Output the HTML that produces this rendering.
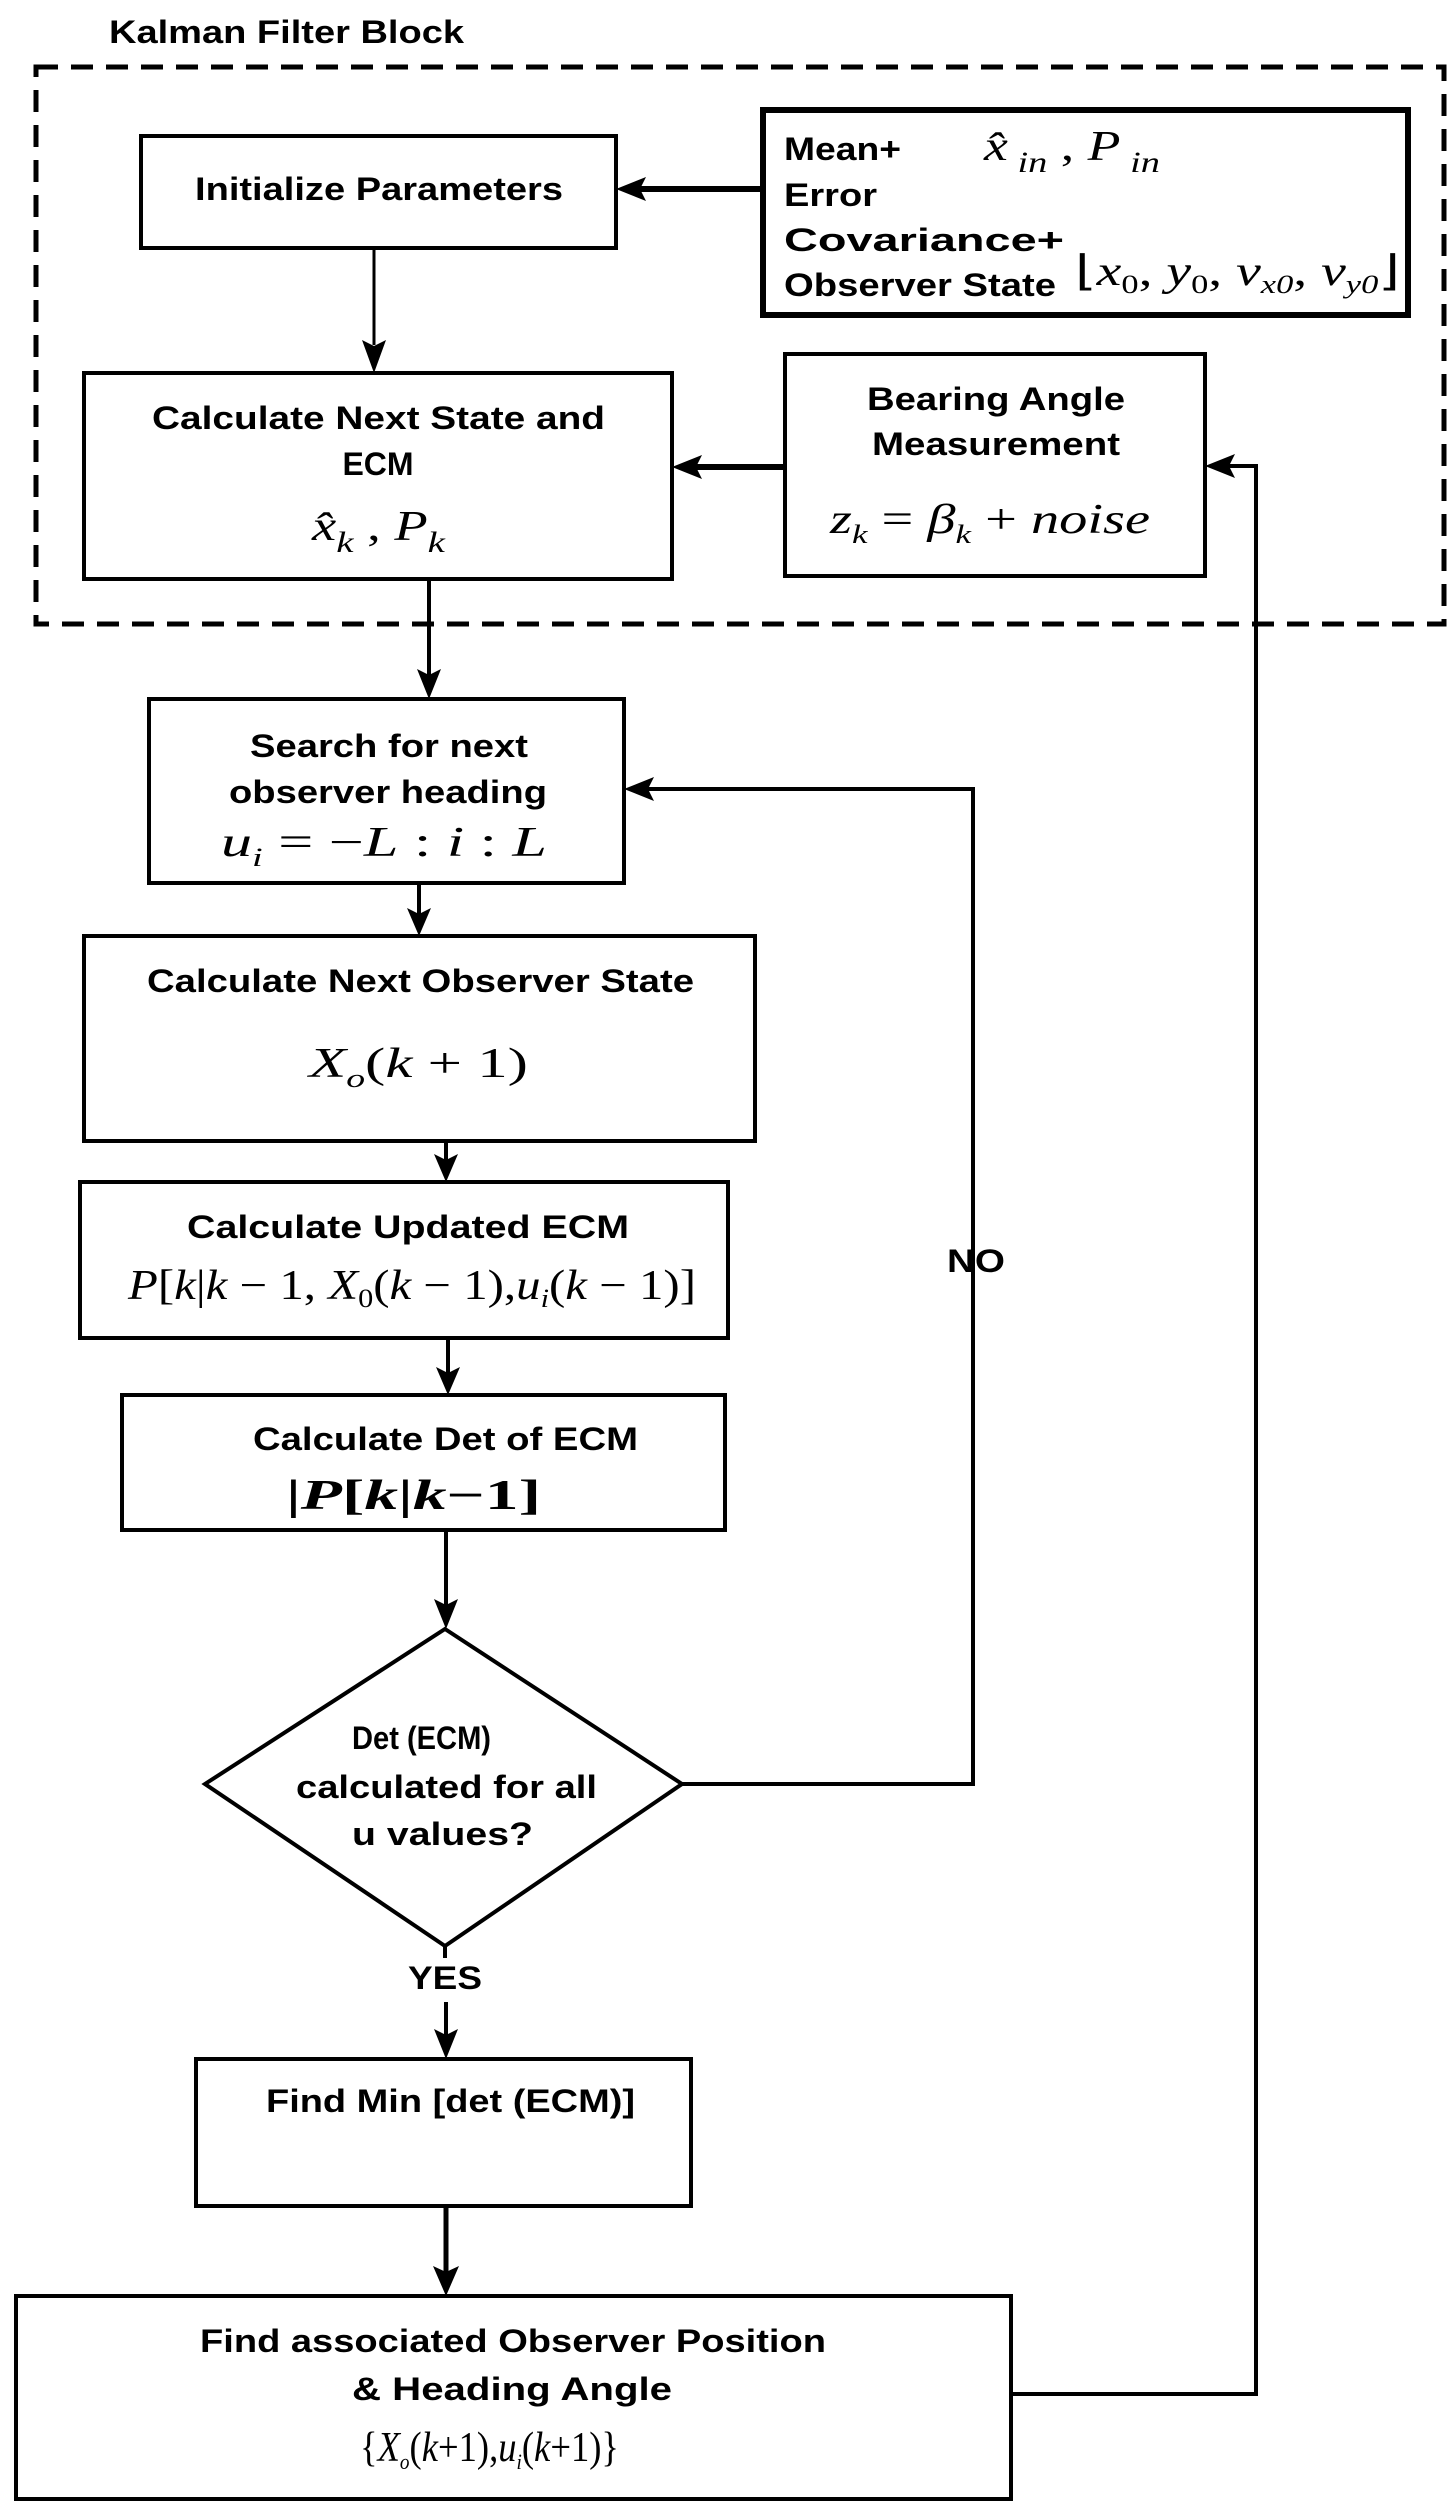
<!DOCTYPE html>
<html><head><meta charset="utf-8"><style>
html,body{margin:0;padding:0;background:#fff}
svg{display:block}
.t{font-family:"Liberation Sans",Arial,sans-serif;font-weight:bold;font-size:32px;fill:#000}
.m{font-family:"Liberation Serif","Times New Roman",serif;font-style:italic;font-size:42px;fill:#000}
</style></head><body>
<svg width="1456" height="2507" viewBox="0 0 1456 2507" xmlns="http://www.w3.org/2000/svg">
<g fill="none" stroke="#000">
<rect x="36" y="67" width="1408" height="557" stroke-width="5" stroke-dasharray="22,13"/>
<rect x="141" y="136" width="475" height="112" stroke-width="4"/>
<rect x="763" y="110" width="645" height="205" stroke-width="6"/>
<rect x="84" y="373" width="588" height="206" stroke-width="4"/>
<rect x="785" y="354" width="420" height="222" stroke-width="4"/>
<rect x="149" y="699" width="475" height="184" stroke-width="4"/>
<rect x="84" y="936" width="671" height="205" stroke-width="4"/>
<rect x="80" y="1182" width="648" height="156" stroke-width="4"/>
<rect x="122" y="1395" width="603" height="135" stroke-width="4"/>
<polygon points="445,1629 682,1784 445,1946 205,1784" stroke-width="4"/>
<rect x="196" y="2059" width="495" height="147" stroke-width="4"/>
<rect x="16" y="2296" width="995" height="203" stroke-width="4"/>
<line x1="763" y1="189" x2="640" y2="189" stroke-width="6"/>
<line x1="374" y1="248" x2="374" y2="345" stroke-width="3"/>
<line x1="785" y1="467" x2="695" y2="467" stroke-width="6"/>
<line x1="429" y1="579" x2="429" y2="675" stroke-width="4"/>
<polyline points="682,1784 973,1784 973,789 648,789" stroke-width="4"/>
<line x1="419" y1="883" x2="419" y2="914" stroke-width="4"/>
<line x1="446" y1="1141" x2="446" y2="1160" stroke-width="4"/>
<line x1="448" y1="1338" x2="448" y2="1373" stroke-width="4"/>
<line x1="446" y1="1530" x2="446" y2="1605" stroke-width="4"/>
<line x1="445" y1="1946" x2="445" y2="1958" stroke-width="4"/>
<line x1="446" y1="2002" x2="446" y2="2035" stroke-width="4"/>
<line x1="446" y1="2206" x2="446" y2="2272" stroke-width="5"/>
<polyline points="1011,2394 1256,2394 1256,466 1228,466" stroke-width="4"/>
</g>
<g fill="#000">
<polygon points="616,189 646,177 640,189 646,201"/>
<polygon points="374,373 362,340 374,346 386,340"/>
<polygon points="672,467 702,455 696,467 702,479"/>
<polygon points="429,699 417,669 429,675 441,669"/>
<polygon points="624,789 654,777 648,789 654,801"/>
<polygon points="419,936 407,908 419,914 431,908"/>
<polygon points="446,1182 434,1154 446,1160 458,1154"/>
<polygon points="448,1395 436,1367 448,1373 460,1367"/>
<polygon points="446,1629 434,1599 446,1605 458,1599"/>
<polygon points="446,2059 434,2029 446,2035 458,2029"/>
<polygon points="446,2296 433,2266 446,2272 459,2266"/>
<polygon points="1205,466 1235,454 1229,466 1235,478"/>
</g>
<text class="t" x="109" y="43" textLength="355" lengthAdjust="spacingAndGlyphs">Kalman Filter Block</text>
<text class="t" x="195" y="200" textLength="368" lengthAdjust="spacingAndGlyphs">Initialize Parameters</text>
<text class="t" x="784" y="160" textLength="117" lengthAdjust="spacingAndGlyphs">Mean+</text>
<text class="t" x="784" y="206" textLength="93" lengthAdjust="spacingAndGlyphs">Error</text>
<text class="t" x="784" y="251" textLength="280" lengthAdjust="spacingAndGlyphs">Covariance+</text>
<text class="t" x="784" y="296" textLength="272" lengthAdjust="spacingAndGlyphs">Observer State</text>
<text class="m" x="984" y="160" font-size="50" textLength="176" lengthAdjust="spacingAndGlyphs">x̂<tspan font-size="30" dy="12"> in</tspan><tspan dy="-12" font-style="normal"> , </tspan>P<tspan font-size="30" dy="12"> in</tspan></text>
<text class="m" x="1075" y="285" textLength="325" lengthAdjust="spacingAndGlyphs"><tspan font-style="normal">⌊</tspan>x<tspan font-size="26" dy="8" font-style="normal">0</tspan><tspan dy="-8" font-style="normal">, </tspan>y<tspan font-size="26" dy="8" font-style="normal">0</tspan><tspan dy="-8" font-style="normal">, </tspan>v<tspan font-size="26" dy="8">x0</tspan><tspan dy="-8" font-style="normal">, </tspan>v<tspan font-size="26" dy="8">y0</tspan><tspan dy="-8" font-style="normal">⌋</tspan></text>
<text class="t" x="152" y="429" textLength="453" lengthAdjust="spacingAndGlyphs">Calculate Next State  and</text>
<text class="t" x="378" y="475" text-anchor="middle">ECM</text>
<text class="m" x="312" y="540" font-size="52" textLength="133" lengthAdjust="spacingAndGlyphs">x̂<tspan font-size="30" dy="12">k</tspan><tspan dy="-12" font-style="normal"> , </tspan>P<tspan font-size="30" dy="12">k</tspan></text>
<text class="t" x="867" y="410" textLength="258" lengthAdjust="spacingAndGlyphs">Bearing Angle</text>
<text class="t" x="872" y="455" textLength="248" lengthAdjust="spacingAndGlyphs">Measurement</text>
<text class="m" x="830" y="533" font-size="46" textLength="320" lengthAdjust="spacingAndGlyphs">z<tspan font-size="26" dy="10">k</tspan><tspan dy="-10" font-style="normal"> = </tspan>β<tspan font-size="26" dy="10">k</tspan><tspan dy="-10" font-style="normal"> + </tspan>noise</text>
<text class="t" x="250" y="757" textLength="278" lengthAdjust="spacingAndGlyphs">Search for next</text>
<text class="t" x="229" y="803" textLength="318" lengthAdjust="spacingAndGlyphs">observer heading</text>
<text class="m" x="221" y="856" textLength="326" lengthAdjust="spacingAndGlyphs">u<tspan font-size="26" dy="10">i</tspan><tspan dy="-10" font-style="normal"> = −</tspan>L<tspan font-style="normal"> : </tspan>i<tspan font-style="normal"> : </tspan>L</text>
<text class="t" x="147" y="992" textLength="547" lengthAdjust="spacingAndGlyphs">Calculate Next Observer State</text>
<text class="m" x="309" y="1077" textLength="219" lengthAdjust="spacingAndGlyphs">X<tspan font-size="26" dy="10">o</tspan><tspan dy="-10" font-style="normal">(</tspan>k<tspan font-style="normal"> + 1)</tspan></text>
<text class="t" x="187" y="1238" textLength="442" lengthAdjust="spacingAndGlyphs">Calculate  Updated ECM</text>
<text class="m" x="128" y="1299" textLength="568" lengthAdjust="spacingAndGlyphs">P<tspan font-style="normal">[</tspan>k<tspan font-style="normal">|</tspan>k<tspan font-style="normal"> − 1, </tspan>X<tspan font-size="26" dy="8" font-style="normal">0</tspan><tspan dy="-8" font-style="normal">(</tspan>k<tspan font-style="normal"> − 1),</tspan>u<tspan font-size="26" dy="8">i</tspan><tspan dy="-8" font-style="normal">(</tspan>k<tspan font-style="normal"> − 1)]</tspan></text>
<text class="t" x="253" y="1450" textLength="385" lengthAdjust="spacingAndGlyphs">Calculate Det of ECM</text>
<text class="m" x="286" y="1509" font-weight="bold" textLength="255" lengthAdjust="spacingAndGlyphs"><tspan font-style="normal">|</tspan>P<tspan font-style="normal">[</tspan>k<tspan font-style="normal">|</tspan>k<tspan font-style="normal">−1]</tspan></text>
<text class="t" x="352" y="1749" textLength="139" lengthAdjust="spacingAndGlyphs">Det (ECM)</text>
<text class="t" x="296" y="1798" textLength="301" lengthAdjust="spacingAndGlyphs">calculated for all</text>
<text class="t" x="352" y="1845" textLength="181" lengthAdjust="spacingAndGlyphs">u  values?</text>
<text class="t" x="947" y="1272" textLength="58" lengthAdjust="spacingAndGlyphs">NO</text>
<text class="t" x="408" y="1989" textLength="74" lengthAdjust="spacingAndGlyphs">YES</text>
<text class="t" x="266" y="2112" textLength="369" lengthAdjust="spacingAndGlyphs">Find Min [det (ECM)]</text>
<text class="t" x="200" y="2352" textLength="626" lengthAdjust="spacingAndGlyphs">Find associated Observer Position</text>
<text class="t" x="352" y="2400" textLength="320" lengthAdjust="spacingAndGlyphs">&amp;  Heading Angle</text>
<text class="m" x="360" y="2461" font-size="36" textLength="259" lengthAdjust="spacingAndGlyphs"><tspan font-style="normal">{</tspan>X<tspan font-size="22" dy="8">o</tspan><tspan dy="-8" font-style="normal">(</tspan>k<tspan font-style="normal">+1),</tspan>u<tspan font-size="22" dy="8">i</tspan><tspan dy="-8" font-style="normal">(</tspan>k<tspan font-style="normal">+1)}</tspan></text>
</svg>
</body></html>
